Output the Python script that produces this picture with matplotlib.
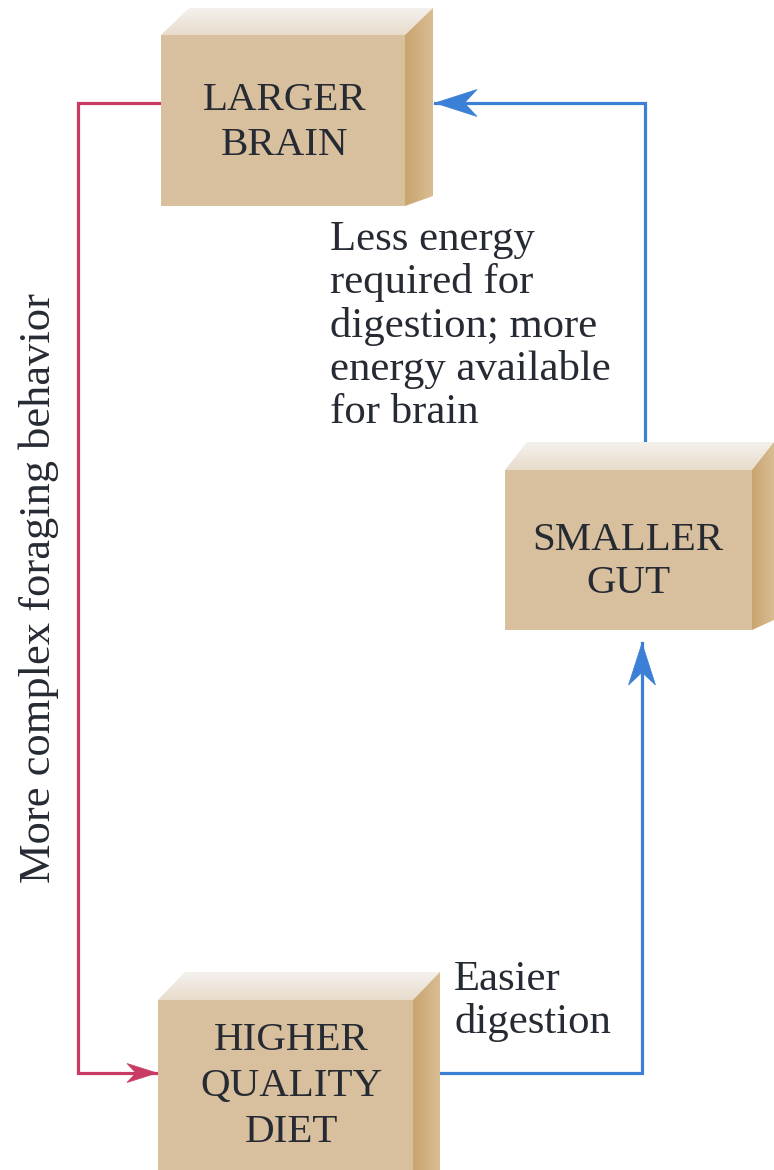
import numpy as np
import matplotlib
matplotlib.use('Agg')
import matplotlib.pyplot as plt
from matplotlib.patches import Polygon
from matplotlib.colors import to_rgb

plt.rcParams['font.family'] = ['Liberation Serif', 'DejaVu Serif']

# labels in the diagram
box_labels = ['LARGER\nBRAIN', 'SMALLER\nGUT', 'HIGHER\nQUALITY\nDIET']
note_top = 'Less energy\nrequired for\ndigestion; more\nenergy available\nfor brain'
note_bottom = 'Easier\ndigestion'
side_label = 'More complex foraging behavior'

# layout (pixels, y downwards): front face x0, x1, y0, y1 and the depth offsets
box_front = [(161, 405, 35, 206), (505, 752, 470, 630), (158, 413, 1000, 1180)]
box_depth = [(28, 27), (22, 28), (27, 28)]
box_baseline = [(285, 110, 45), (628, 550, 43), (291, 1050, 46)]

text_color = '#262a33'
red = '#c93b63'
blue = '#3b80d6'
front_col = '#d8c09f'
side_cols = ('#c9a46f', '#d9bd92')
top_cols = ('#f4f1ed', '#e8dccb')

W, H = 774, 1170
fig = plt.figure(figsize=(W / 100, H / 100), dpi=100)
ax = fig.add_axes([0, 0, 1, 1])


def shade(points, c0, c1, vertical, z):
    poly = Polygon(points, closed=True, facecolor='none', edgecolor='none', zorder=z)
    ax.add_patch(poly)
    pts = np.array(points)
    xmin, xmax = pts[:, 0].min(), pts[:, 0].max()
    ymin, ymax = pts[:, 1].min(), pts[:, 1].max()
    t = np.linspace(0, 1, 64)
    cols = np.outer(1 - t, to_rgb(c0)) + np.outer(t, to_rgb(c1))
    if vertical:
        img = cols[:, None, :].repeat(2, axis=1)
    else:
        img = cols[None, :, :].repeat(2, axis=0)
    im = ax.imshow(img, extent=(xmin, xmax, ymax, ymin), origin='upper',
                   interpolation='bilinear', zorder=z, aspect='auto')
    im.set_clip_path(poly)


def draw_box(front, depth, z=2):
    x0, x1, y0, y1 = front
    dx, dy = depth
    # front face
    ax.add_patch(Polygon([(x0, y0), (x1, y0), (x1, y1), (x0, y1)],
                         closed=True, facecolor=front_col, edgecolor='none', zorder=z))
    # top face
    shade([(x0, y0), (x0 + dx, y0 - dy), (x1 + dx, y0 - dy), (x1, y0)],
          top_cols[0], top_cols[1], True, z)
    # right face
    shade([(x1, y0), (x1 + dx, y0 - dy), (x1 + dx, y1 - 10), (x1, y1)],
          side_cols[0], side_cols[1], False, z)


def head(tip, prev, length, width, color):
    tip = np.array(tip, float)
    u = tip - np.array(prev, float)
    u /= np.hypot(*u)
    n = np.array([-u[1], u[0]])
    pts = [tip, tip - length * u + width / 2 * n, tip - 0.7 * length * u,
           tip - length * u - width / 2 * n]
    ax.add_patch(Polygon(pts, closed=True, facecolor=color, edgecolor=color,
                         lw=0.5, zorder=4))


def connector(path, color, length, width):
    xs, ys = zip(*path)
    ax.plot(xs, ys, color=color, lw=2.3, solid_joinstyle='miter', zorder=1)
    head(path[-1], path[-2], length, width, color)


for front, depth in zip(box_front, box_depth):
    draw_box(front, depth)

for label, (cx, y0, gap) in zip(box_labels, box_baseline):
    for i, line in enumerate(label.split('\n')):
        ax.text(cx, y0 + i * gap, line, ha='center', va='baseline',
                fontsize=29.5, color=text_color, zorder=5)

# arrows
connector([(161, 103), (78, 103), (78, 1073), (157, 1073)], red, 30, 19)
connector([(645, 443), (645, 103), (435, 103)], blue, 42, 27)
connector([(428, 1073), (642, 1073), (642, 643)], blue, 42, 27)

# notes
for i, line in enumerate(note_top.split('\n')):
    ax.text(330, 250 + i * 43.3, line, ha='left', va='baseline',
            fontsize=30.8, color=text_color)
for i, line in enumerate(note_bottom.split('\n')):
    ax.text(454, 990 + i * 43, line, ha='left', va='baseline',
            fontsize=30.8, color=text_color)

ax.text(50, 588, side_label, rotation=90, rotation_mode='anchor',
        ha='center', va='baseline', fontsize=32, color=text_color)

ax.set_xlim(0, W)
ax.set_ylim(H, 0)
ax.axis('off')
fig.savefig('out.png', dpi=100, facecolor='white')
